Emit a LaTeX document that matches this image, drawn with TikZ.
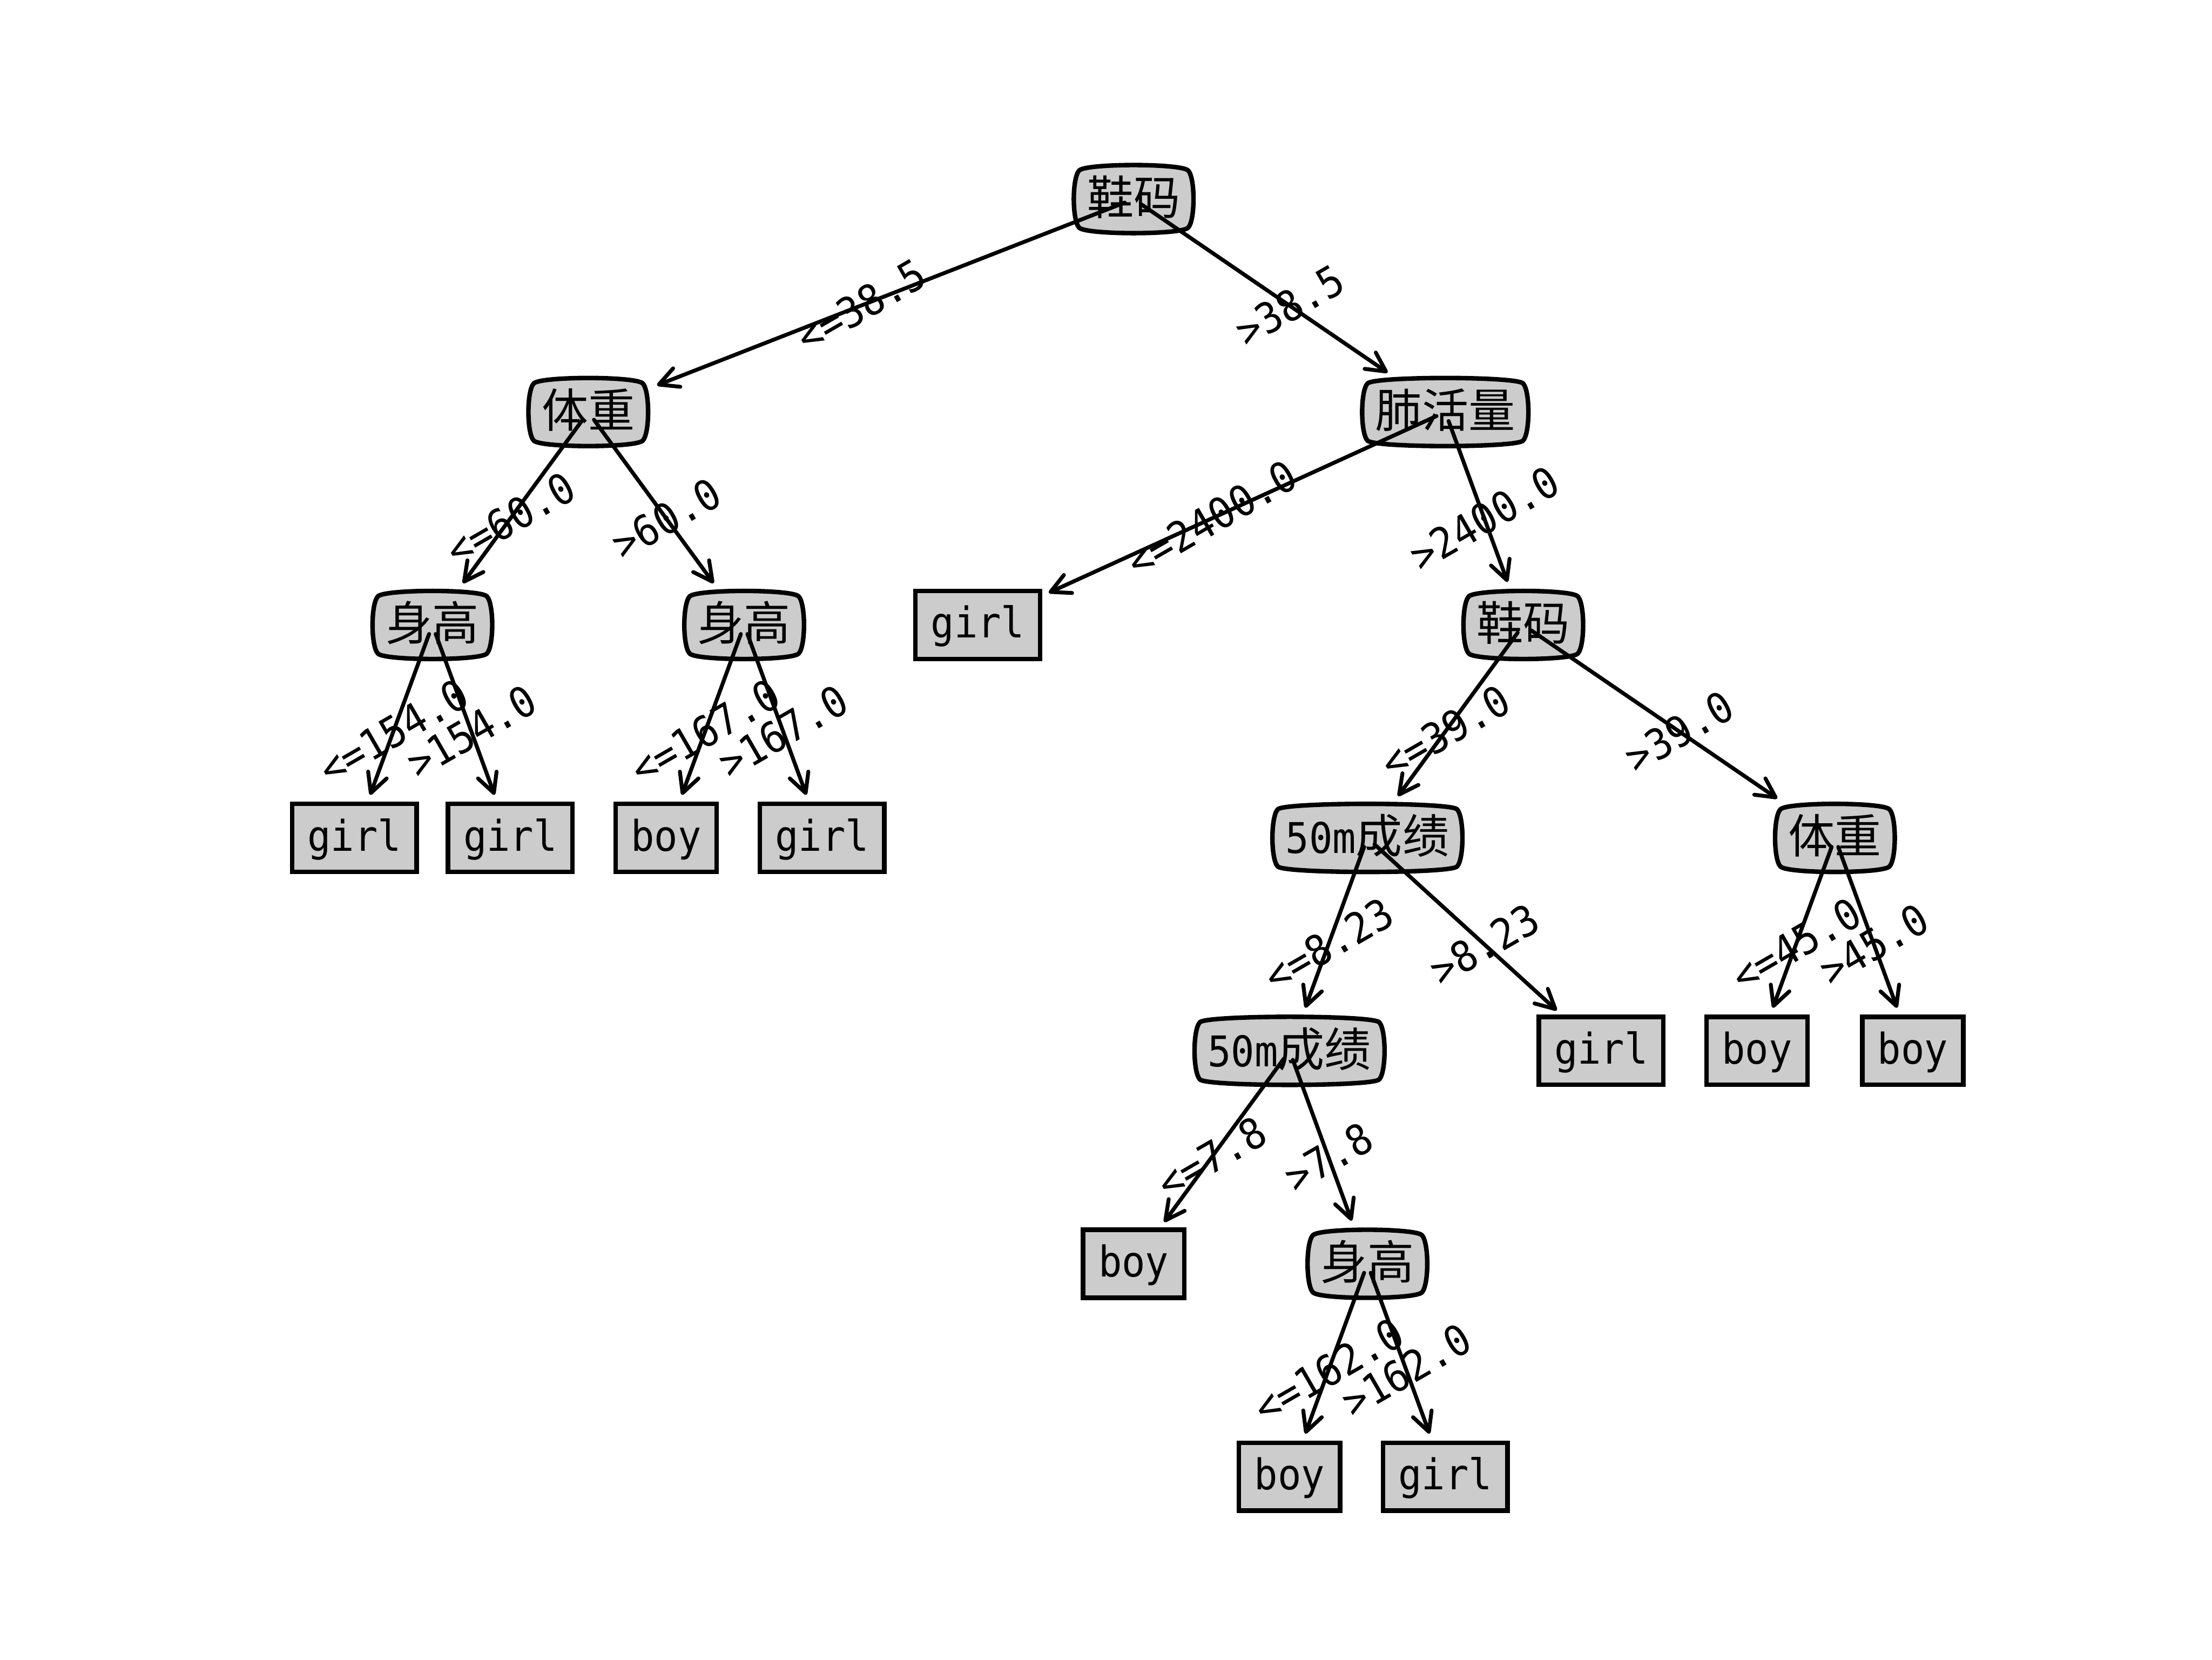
\documentclass[tikz,border=0pt]{standalone}
\usepackage{fontspec}
\newfontfamily\cjkfont{Noto Sans CJK SC}
\newfontfamily\latfont[FakeStretch=0.92]{DejaVu Sans Mono}
\newcommand\myzh[1]{{\cjkfont\fontsize{33}{36}\selectfont #1}}
\newcommand\mylat[1]{{\latfont\fontsize{30}{36}\selectfont #1}}
\usetikzlibrary{arrows.meta,calc}
\definecolor{boxgray}{gray}{0.8}
\pgfdeclarelayer{bg}
\pgfsetlayers{bg,main}
\tikzset{
  leafbox/.style={rectangle, draw=black, fill=boxgray, line width=3.2pt, outer sep=0pt,
    inner xsep=10.9pt, inner ysep=10.1pt, text height=23.2pt, text depth=4.8pt},
  decbox/.style={rectangle, outer sep=0pt, inner xsep=9.4pt, inner ysep=10.1pt,
    text height=25pt, text depth=3pt},
  decline/.style={draw=black, fill=boxgray, line width=3.2pt, line join=round},
  edgeline/.style={draw=black, line width=2.75pt, line cap=round,
    -{Straight Barb[length=13.6pt,width=14pt,round]},
    shorten <=6.8pt, shorten >=6.8pt},
  elab/.style={rotate=30, inner sep=0pt},
}
\begin{document}
\begin{tikzpicture}[x=1pt,y=1pt]
\useasboundingbox (0,0) rectangle (1568,1176);
% decision nodes
\node[decbox] (n0) at (803.6,1034.9) {\myzh{鞋码}};
\node[decbox] (n1) at (417.0,884.0) {\myzh{体重}};
\node[decbox] (n2) at (1024.5,884.0) {\myzh{肺活量}};
\node[decbox] (n3) at (306.5,733.1) {\myzh{身高}};
\node[decbox] (n4) at (527.5,733.1) {\myzh{身高}};
\node[decbox] (n6) at (1079.8,733.1) {\myzh{鞋码}};
\node[decbox] (n7) at (969.3,582.2) {\mylat{50m}\myzh{成绩}};
\node[decbox] (n8) at (1300.7,582.2) {\myzh{体重}};
\node[decbox] (n9) at (914.1,431.3) {\mylat{50m}\myzh{成绩}};
\node[decbox] (n10) at (969.3,280.4) {\myzh{身高}};
% leaves
\node[leafbox] (n5) at (693.1,733.1) {\mylat{girl}};
\node[leafbox] (l0) at (251.2,582.2) {\mylat{girl}};
\node[leafbox] (l1) at (361.7,582.2) {\mylat{girl}};
\node[leafbox] (l2) at (472.2,582.2) {\mylat{boy}};
\node[leafbox] (l3) at (582.7,582.2) {\mylat{girl}};
\node[leafbox] (l8) at (1135.0,431.3) {\mylat{girl}};
\node[leafbox] (l9) at (1245.5,431.3) {\mylat{boy}};
\node[leafbox] (l10) at (1355.9,431.3) {\mylat{boy}};
\node[leafbox] (l5) at (803.6,280.4) {\mylat{boy}};
\node[leafbox] (l6) at (914.1,129.5) {\mylat{boy}};
\node[leafbox] (l7) at (1024.5,129.5) {\mylat{girl}};
% round4 outlines of decision nodes
\begin{pgfonlayer}{bg}
\foreach \nd in {n0,n1,n2,n3,n4,n6,n7,n8,n9,n10} {
  \draw[decline] let \p1=(\nd.south west), \p2=(\nd.north east) in
    (\x1+3.8pt,\y1+3.8pt)
    .. controls (\x1+8.9pt,\y1-1.3pt) and (\x2-8.9pt,\y1-1.3pt) .. (\x2-3.8pt,\y1+3.8pt)
    .. controls (\x2+1.3pt,\y1+8.9pt) and (\x2+1.3pt,\y2-8.9pt) .. (\x2-3.8pt,\y2-3.8pt)
    .. controls (\x2-8.9pt,\y2+1.3pt) and (\x1+8.9pt,\y2+1.3pt) .. (\x1+3.8pt,\y2-3.8pt)
    .. controls (\x1-1.3pt,\y2-8.9pt) and (\x1-1.3pt,\y1+8.9pt) .. (\x1+3.8pt,\y1+3.8pt)
    -- cycle;
}
\end{pgfonlayer}
% edges and labels
\foreach \pa/\ch/\tx in {n0/n1/{<=38.5}, n0/n2/{>38.5},
  n1/n3/{<=60.0}, n1/n4/{>60.0},
  n3/l0/{<=154.0}, n3/l1/{>154.0},
  n4/l2/{<=167.0}, n4/l3/{>167.0},
  n2/n5/{<=2400.0}, n2/n6/{>2400.0},
  n6/n7/{<=39.0}, n6/n8/{>39.0},
  n7/n9/{<=8.23}, n7/l8/{>8.23},
  n8/l9/{<=45.0}, n8/l10/{>45.0},
  n9/l5/{<=7.8}, n9/n10/{>7.8},
  n10/l6/{<=162.0}, n10/l7/{>162.0}} {
  \draw[edgeline] (\pa.center) -- (\ch);
  \path (\pa.center) -- node[elab, midway] {\mylat{\tx}} (\ch.center);
}
\end{tikzpicture}
\end{document}
